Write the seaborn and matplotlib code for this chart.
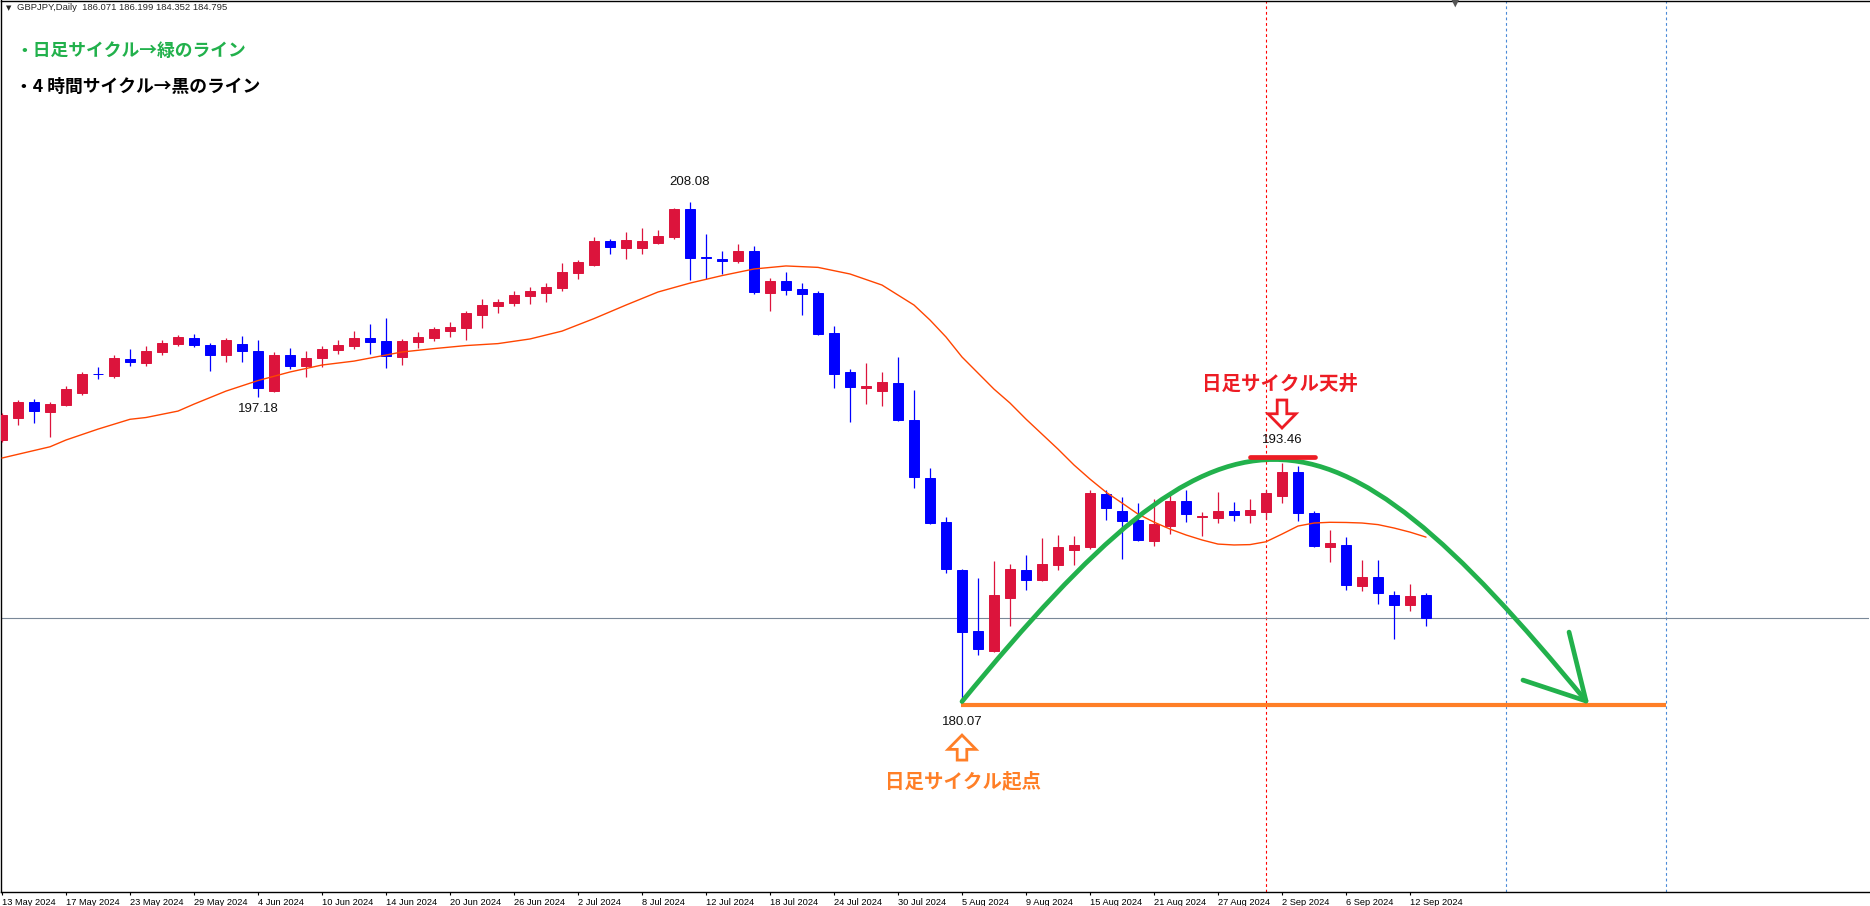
import numpy as np
import pandas as pd
import matplotlib
matplotlib.use("Agg")
import matplotlib.pyplot as plt
import matplotlib.patches as mpatches
from matplotlib.path import Path
import seaborn as sns

# daily GBPJPY candles, 13 May 2024 .. 13 Sep 2024
opens = [194.75, 196.00, 196.88, 196.33, 196.71, 197.40, 198.47, 198.33, 199.29, 199.08,
         199.68, 200.13, 200.46, 200.07, 199.53, 200.13, 199.73, 197.51, 199.51, 198.91,
         199.36, 199.81, 200.03, 200.46, 200.29, 199.41, 200.25, 200.48, 200.87, 201.04,
         201.77, 202.27, 202.44, 202.83, 203.00, 203.28, 204.12, 204.57, 205.90, 205.52,
         205.52, 205.78, 206.14, 207.69, 205.00, 204.89, 204.79, 205.35, 203.00, 203.67,
         203.22, 203.00, 200.76, 198.56, 197.69, 197.51, 197.96, 195.87, 192.60, 190.14,
         187.46, 184.05, 182.94, 185.91, 187.46, 186.90, 187.76, 188.59, 188.75, 191.72,
         190.77, 190.27, 189.09, 189.95, 191.33, 190.46, 190.39, 190.77, 190.56, 190.73,
         191.63, 192.96, 190.66, 188.77, 188.88, 186.59, 187.07, 186.06, 185.52, 186.071]
highs = [196.24, 196.99, 197.04, 196.88, 197.77, 198.56, 198.84, 199.51, 199.85, 200.01,
         200.35, 200.63, 200.69, 200.18, 200.46, 200.59, 200.35, 199.68, 199.90, 199.73,
         200.01, 200.35, 200.85, 201.25, 201.58, 200.41, 200.80, 201.08, 201.36, 201.97,
         202.65, 202.65, 203.10, 203.32, 203.54, 204.66, 204.83, 206.12, 206.01, 206.40,
         206.62, 206.51, 207.74, 208.08, 206.29, 205.35, 205.74, 205.63, 203.84, 204.18,
         203.56, 203.11, 201.15, 198.74, 199.08, 198.57, 199.41, 197.55, 193.16, 190.42,
         187.52, 187.00, 187.97, 187.80, 188.31, 189.27, 189.44, 189.37, 191.95, 191.95,
         191.57, 191.24, 191.46, 191.83, 191.95, 190.73, 191.83, 191.29, 191.44, 191.95,
         193.46, 193.29, 190.77, 189.71, 189.33, 188.03, 188.03, 186.31, 186.68, 186.199]
lows = [194.65, 195.59, 195.72, 194.93, 196.65, 197.29, 198.18, 198.24, 198.91, 198.91,
        199.51, 200.01, 199.97, 198.63, 199.13, 199.13, 197.18, 197.45, 198.74, 198.29,
        198.85, 199.58, 199.86, 199.57, 198.80, 198.97, 199.92, 200.31, 200.53, 200.37,
        201.04, 201.88, 202.27, 202.38, 202.50, 203.11, 203.78, 204.51, 205.18, 204.90,
        205.18, 205.74, 206.02, 203.73, 203.75, 204.05, 204.68, 202.94, 201.99, 202.89,
        201.77, 200.65, 197.68, 195.77, 196.78, 196.67, 195.83, 192.08, 190.03, 187.28,
        180.07, 182.70, 182.89, 184.34, 186.34, 186.85, 187.46, 187.76, 188.66, 190.28,
        188.10, 189.10, 188.83, 189.50, 190.15, 189.37, 190.11, 190.23, 190.11, 190.34,
        191.24, 190.23, 188.78, 187.93, 186.36, 186.31, 185.58, 183.62, 185.18, 184.352]
closes = [196.13, 196.88, 196.39, 196.76, 197.60, 198.45, 198.42, 199.34, 199.13, 199.73,
          200.18, 200.52, 200.09, 199.53, 200.35, 199.75, 197.68, 199.51, 198.91, 199.34,
          199.85, 200.07, 200.46, 200.25, 199.47, 200.29, 200.52, 200.97, 201.08, 201.86,
          202.31, 202.48, 202.87, 203.10, 203.32, 204.16, 204.72, 205.90, 205.58, 205.95,
          205.90, 206.18, 207.69, 204.96, 204.96, 204.79, 205.35, 203.06, 203.67, 203.17,
          202.94, 200.70, 198.46, 197.73, 197.77, 198.01, 195.88, 192.69, 190.08, 187.50,
          184.01, 183.02, 186.06, 187.52, 186.92, 187.80, 188.77, 188.87, 191.78, 190.96,
          190.23, 189.15, 190.06, 191.33, 190.62, 190.52, 190.77, 190.56, 190.83, 191.78,
          192.96, 190.67, 188.83, 188.99, 186.64, 187.07, 186.19, 185.52, 186.01, 184.795]

# moving average line (read at bar positions)
ma_idx = [0, 3, 4, 6, 8, 9, 11, 12, 14, 16, 18, 20, 22, 25, 27, 29, 31, 33, 35, 37,
          39, 41, 43, 45, 47, 49, 51, 53, 55, 57] + list(range(58, 90))
ma_vals = [193.74, 194.37, 194.75, 195.36, 195.91, 196.01, 196.37, 196.76, 197.49, 198.08,
           198.56, 198.95, 199.17, 199.68, 199.87, 200.04, 200.15, 200.41, 200.85, 201.55,
           202.31, 203.04, 203.54, 203.96, 204.33, 204.50, 204.42, 204.05, 203.43, 202.31,
           201.47, 200.52, 199.40, 198.50, 197.60, 196.82, 195.92, 195.08, 194.24, 193.35,
           192.56, 191.83, 191.22, 190.60, 190.15, 189.76, 189.43, 189.15, 188.92, 188.87,
           188.89, 189.05, 189.48, 189.93, 190.10, 190.14, 190.13, 190.10, 190.01, 189.82,
           189.59, 189.31]

date_labels = ['13 May 2024', '17 May 2024', '23 May 2024', '29 May 2024', '4 Jun 2024',
               '10 Jun 2024', '14 Jun 2024', '20 Jun 2024', '26 Jun 2024', '2 Jul 2024',
               '8 Jul 2024', '12 Jul 2024', '18 Jul 2024', '24 Jul 2024', '30 Jul 2024',
               '5 Aug 2024', '9 Aug 2024', '15 Aug 2024', '21 Aug 2024', '27 Aug 2024',
               '2 Sep 2024', '6 Sep 2024', '12 Sep 2024']

bars = pd.DataFrame({'open': opens, 'high': highs, 'low': lows, 'close': closes})
bars['idx'] = np.arange(len(bars))
ma = pd.DataFrame({'idx': ma_idx, 'ma': ma_vals})

RED_C = '#dc143c'
BLUE_C = '#0000ff'
GREEN = '#22b14c'
ORANGE = '#ff7f27'
PAINT_RED = '#ed1c24'

sns.set_style('white')
plt.rcParams['font.family'] = ['Liberation Sans', 'DejaVu Sans']
jp = ['Noto Sans CJK JP', 'DejaVu Sans']

W, H = 1870, 906
fig = plt.figure(figsize=(W / 100, H / 100), dpi=100)
ax = fig.add_axes([1 / W, 14 / H, 1868 / W, 891.5 / H])
ax.set_xlim(-0.0625, 116.6875)
ax.set_ylim(169.43, 219.37)

# markers / guide lines behind candles
ax.axvline(79, color='red', lw=0.8, ls=(0, (2.5, 2.5)), zorder=1)
for v in [94, 104]:
    ax.axvline(v, color='#4a8ad8', lw=0.8, ls=(0, (2.5, 2.5)), zorder=1)
ax.axhline(bars['close'].iloc[-1], color='#7a8898', lw=0.8, zorder=1)

# candles
up = bars['close'] >= bars['open']
cols = np.where(up, RED_C, BLUE_C)
ax.vlines(bars['idx'], bars['low'], bars['high'], colors=cols, lw=0.9, zorder=3)
body_lo = np.minimum(bars['open'], bars['close'])
body_h = (bars['close'] - bars['open']).abs()
ax.bar(bars['idx'], body_h, bottom=body_lo, width=0.62, color=cols,
       edgecolor=cols, linewidth=0.7, zorder=4)

sns.lineplot(data=ma, x='idx', y='ma', color='#ff4500', lw=1.0, ax=ax, zorder=5)

# high / low labels
def price_label(i, val, dy):
    ax.annotate(f"{val:.2f}", (i, val), xytext=(0, dy), textcoords='offset points',
                ha='center', va='center', fontsize=9.5, color='#111111', zorder=8)

price_label(43, highs[43], 14.5)
price_label(80, highs[80], 16.5)
price_label(16, lows[16], -9)
price_label(60, lows[60], -14.5)

# hand drawn annotations
ax.plot([59.92, 104], [179.92, 179.92], color=ORANGE, lw=3.0, solid_capstyle='butt', zorder=6)
arc = Path([(60, 180.10), (76.56, 198.17), (82.44, 198.17), (99.0, 180.13)],
           [Path.MOVETO, Path.CURVE4, Path.CURVE4, Path.CURVE4])
ax.add_patch(mpatches.PathPatch(arc, fill=False, edgecolor=GREEN, lw=3.4,
                                capstyle='round', zorder=7))
ax.plot([95.06, 99.0, 97.94], [181.30, 180.13, 183.99], color=GREEN, lw=3.4,
        solid_capstyle='round', solid_joinstyle='round', zorder=7)
ax.plot([78, 82.06], [193.81, 193.81], color=PAINT_RED, lw=3.4,
        solid_capstyle='round', zorder=7)

ax.add_patch(mpatches.FancyArrow(80, 196.99, 0, -1.57, width=0.6, head_width=1.75,
                                 head_length=0.8, length_includes_head=True,
                                 facecolor='white', edgecolor=PAINT_RED, lw=2.0, zorder=8))
ax.add_patch(mpatches.FancyArrow(60, 176.82, 0, 1.40, width=0.6, head_width=1.75,
                                 head_length=0.8, length_includes_head=True,
                                 facecolor='white', edgecolor=ORANGE, lw=2.0, zorder=8))
ax.text(79.875, 197.85, '日足サイクル天井', family=jp, fontsize=14, fontweight='bold',
        color=PAINT_RED, ha='center', va='center', zorder=8)
ax.text(60.06, 175.64, '日足サイクル起点', family=jp, fontsize=14, fontweight='bold',
        color=ORANGE, ha='center', va='center', zorder=8)

# header texts
hdr = f"GBPJPY,Daily  {opens[-1]:.3f} {highs[-1]:.3f} {lows[-1]:.3f} {closes[-1]:.3f}"
fig.text(6 / W, 1 - 8 / H, '▼', family=['DejaVu Sans'], fontsize=5, va='center', ha='left')
fig.text(17 / W, 1 - 8 / H, hdr, fontsize=6.8, va='center', ha='left')
fig.text(1455 / W, 1 - 3 / H, '▼', family=['DejaVu Sans'], fontsize=8, color='#555555',
         va='center', ha='center')
fig.text(15 / W, 1 - 51 / H, '・日足サイクル→緑のライン', family=jp, fontsize=12.8,
         fontweight='bold', color=GREEN, va='center', ha='left')
fig.text(15 / W, 1 - 87 / H, '・4 時間サイクル→黒のライン', family=jp, fontsize=12.8,
         fontweight='bold', color='black', va='center', ha='left')

# axes
ax.set_xticks(range(0, 4 * len(date_labels), 4))
ax.set_xticklabels(date_labels)
for lbl in ax.get_xticklabels():
    lbl.set_horizontalalignment('left')
ax.tick_params(axis='x', length=2.5, width=0.8, pad=1.5, labelsize=6.7,
               direction='out', colors='black', bottom=True)
ax.set_yticks([])
ax.set_xlabel('')
ax.set_ylabel('')
for s in ['left', 'bottom', 'top']:
    ax.spines[s].set_color('black')
    ax.spines[s].set_linewidth(1.0)
ax.spines['right'].set_visible(False)

fig.savefig('out.png', dpi=100)
